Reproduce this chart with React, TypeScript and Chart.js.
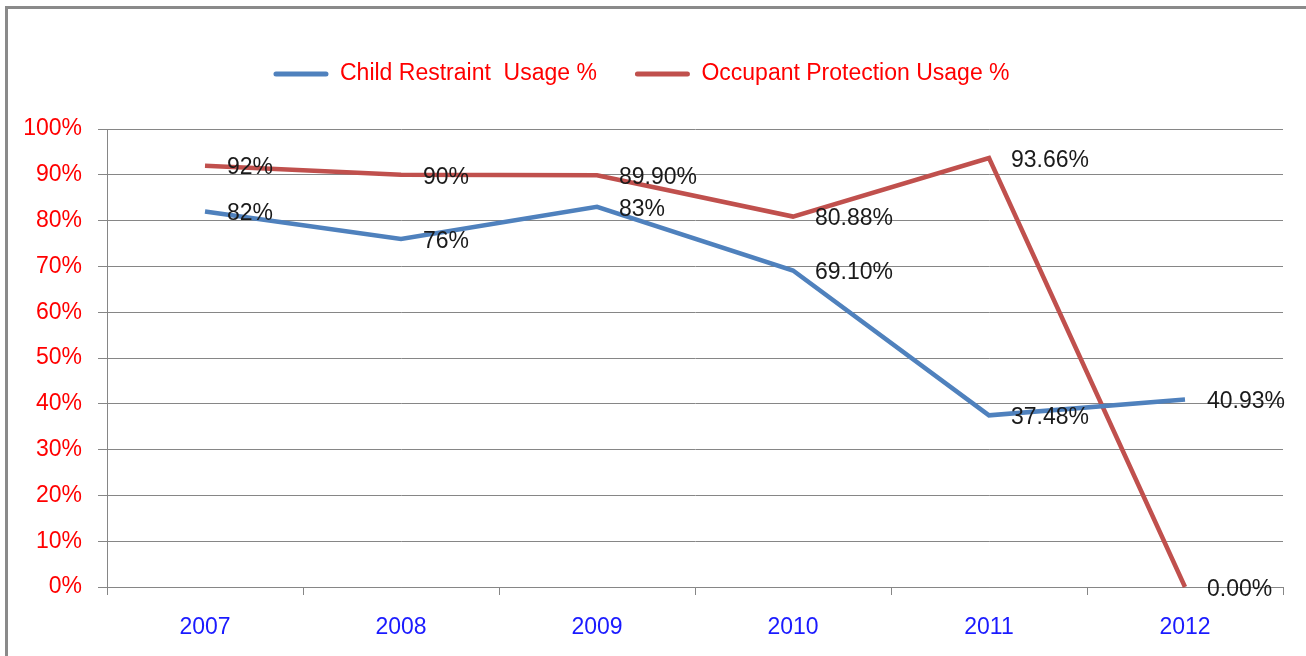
import React, { useEffect, useRef } from "react";
import { Chart, registerables } from "chart.js";

Chart.register(...registerables);

const categories = ["2007", "2008", "2009", "2010", "2011", "2012"];
const childValues = [82, 76, 83, 69.1, 37.48, 40.93];
const occupantValues = [92, 90, 89.9, 80.88, 93.66, 0];
const childLabels = ["82%", "76%", "83%", "69.10%", "37.48%", "40.93%"];
const occupantLabels = ["92%", "90%", "89.90%", "80.88%", "93.66%", "0.00%"];
const seriesNames = ["Child Restraint  Usage %", "Occupant Protection Usage %"];
const seriesColors = ["#4F81BD", "#C0504D"];

const FONT = "'Liberation Sans', Arial, sans-serif";

export default function App() {
  const ref = useRef<HTMLCanvasElement | null>(null);

  useEffect(() => {
    if (!ref.current) return;
    const allLabels = [childLabels, occupantLabels];

    const legendSpace = {
      id: "legendSpace",
      beforeInit(chart: any) {
        const orig = chart.legend.fit;
        chart.legend.fit = function () {
          orig.bind(this)();
          this.height += 33.5;
        };
      },
    };

    const dataLabels = {
      id: "dataLabels",
      afterDatasetsDraw(chart: any) {
        const ctx = chart.ctx;
        ctx.save();
        ctx.font = `23px ${FONT}`;
        ctx.fillStyle = "#1a1a1a";
        ctx.textAlign = "left";
        ctx.textBaseline = "middle";
        chart.data.datasets.forEach((ds: any, di: number) => {
          const meta = chart.getDatasetMeta(di);
          meta.data.forEach((pt: any, i: number) => {
            ctx.fillText(allLabels[di][i], pt.x + 22, pt.y + 2.5);
          });
        });
        ctx.restore();
      },
    };

    const chart = new Chart(ref.current, {
      type: "line",
      data: {
        labels: categories,
        datasets: [
          {
            label: seriesNames[0],
            data: childValues,
            borderColor: seriesColors[0],
            backgroundColor: seriesColors[0],
            borderWidth: 4.5,
            pointRadius: 0,
            tension: 0,
            clip: false as any,
          },
          {
            label: seriesNames[1],
            data: occupantValues,
            borderColor: seriesColors[1],
            backgroundColor: seriesColors[1],
            borderWidth: 4.5,
            pointRadius: 0,
            tension: 0,
            clip: false as any,
          },
        ],
      },
      options: {
        animation: false,
        responsive: true,
        maintainAspectRatio: false,
        layout: { padding: { top: 24.5, right: 23, left: 0, bottom: 0 } },
        plugins: {
          tooltip: { enabled: false },
          legend: {
            position: "top",
            labels: {
              font: { family: FONT, size: 23 },
              color: "#FF0000",
              boxWidth: 55,
              boxHeight: 5,
              padding: 38,
              generateLabels(chart: any) {
                return chart.data.datasets.map((ds: any, i: number) => ({
                  text: ds.label,
                  fillStyle: ds.borderColor,
                  strokeStyle: ds.borderColor,
                  lineWidth: 0,
                  borderRadius: 2.5,
                  fontColor: "#FF0000",
                  datasetIndex: i,
                  hidden: false,
                }));
              },
            },
          },
        },
        scales: {
          x: {
            offset: true,
            grid: {
              offset: true,
              drawOnChartArea: false,
              drawTicks: true,
              tickLength: 8,
              color: "#868686",
            },
            border: { color: "#868686" },
            ticks: {
              font: { family: FONT, size: 23 },
              color: "#1a1aff",
              padding: 19,
              maxRotation: 0,
            },
            afterFit(scale: any) {
              scale.height = 656 - 587;
            },
          },
          y: {
            min: 0,
            max: 100,
            grid: { color: "#868686", tickLength: 9 },
            border: { color: "#868686" },
            ticks: {
              stepSize: 10,
              font: { family: FONT, size: 23 },
              color: "#FF0000",
              padding: 16,
              callback: (v: any) => v + "%",
            },
            afterFit(scale: any) {
              scale.width = 107;
            },
          },
        },
      },
      plugins: [legendSpace, dataLabels],
    });
    return () => chart.destroy();
  }, []);

  return (
    <div
      style={{
        position: "fixed",
        left: 0,
        top: 0,
        width: 1306,
        height: 656,
        overflow: "hidden",
        background: "#fff",
      }}
    >
      <div
        style={{
          position: "absolute",
          left: 5,
          top: 6,
          width: 1400,
          height: 800,
          borderTop: "3px solid #8a8a8a",
          borderLeft: "3px solid #8a8a8a",
        }}
      />
      <div style={{ position: "absolute", left: 0, top: 0, width: 1306, height: 656 }}>
        <canvas ref={ref} />
      </div>
    </div>
  );
}
